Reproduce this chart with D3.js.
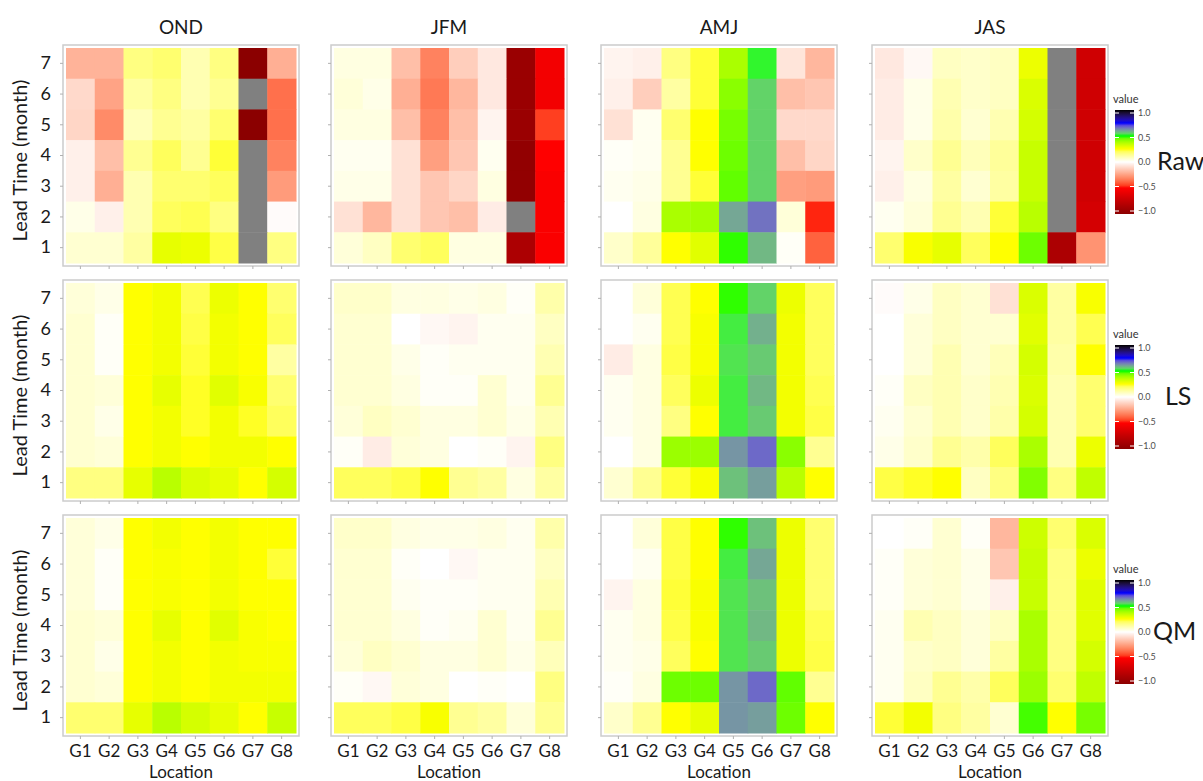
<!DOCTYPE html>
<html>
<head>
<meta charset="utf-8">
<script src="https://cdn.jsdelivr.net/npm/d3@7"></script>
<style>
  body { margin: 0; background: #fff; }
  text { font-family: Lato, "Open Sans", sans-serif; }
</style>
</head>
<body>
<div id="chart"></div>
<script>
var seasons = ["OND", "JFM", "AMJ", "JAS"];
var methods = ["Raw", "LS", "QM"];
var locations = ["G1", "G2", "G3", "G4", "G5", "G6", "G7", "G8"];
// rows of every grid below, top to bottom
var leadTimes = [7, 6, 5, 4, 3, 2, 1];
var legendTicks = [1.0, 0.5, 0.0, -0.5, -1.0];

// one row per lead time (7 first), columns G1..G8, null = no value (grey)
var rawOND = [
  [-0.20, -0.20, 0.16, 0.18, 0.10, 0.16, -1.00, -0.21],
  [-0.10, -0.24, 0.12, 0.16, 0.10, 0.14, null, -0.36],
  [-0.11, -0.30, 0.09, 0.14, 0.12, 0.18, -1.00, -0.36],
  [-0.04, -0.17, 0.14, 0.20, 0.14, 0.23, null, -0.32],
  [-0.04, -0.21, 0.10, 0.18, 0.18, 0.20, null, -0.26],
  [0.03, -0.04, 0.10, 0.20, 0.21, 0.16, null, -0.01],
  [0.06, 0.06, 0.12, 0.29, 0.28, 0.22, null, 0.16]
];
var rawJFM = [
  [0.04, 0.04, -0.17, -0.32, -0.13, -0.06, -0.93, -0.55],
  [0.05, 0.03, -0.21, -0.34, -0.19, -0.06, -0.93, -0.55],
  [0.04, 0.04, -0.17, -0.32, -0.17, -0.03, -0.93, -0.45],
  [0.02, 0.02, -0.08, -0.25, -0.15, 0.02, -0.97, -0.50],
  [0.03, 0.03, -0.08, -0.15, -0.11, 0.04, -0.97, -0.52],
  [-0.08, -0.19, -0.08, -0.15, -0.17, -0.05, null, -0.52],
  [0.05, 0.08, 0.18, 0.20, 0.04, 0.04, -0.85, -0.52]
];
var rawAMJ = [
  [-0.03, -0.04, 0.16, 0.23, 0.38, 0.51, -0.07, -0.19],
  [-0.04, -0.13, 0.12, 0.23, 0.42, 0.55, -0.17, -0.15],
  [-0.08, 0.02, 0.18, 0.25, 0.44, 0.55, -0.10, -0.10],
  [0.01, 0.02, 0.14, 0.25, 0.45, 0.55, -0.17, -0.11],
  [0.02, 0.03, 0.14, 0.23, 0.46, 0.55, -0.25, -0.26],
  [0.00, 0.04, 0.38, 0.39, 0.60, 0.66, 0.05, -0.48],
  [0.07, 0.13, 0.25, 0.30, 0.49, 0.58, 0.01, -0.39]
];
var rawJAS = [
  [-0.06, -0.02, 0.08, 0.07, 0.08, 0.28, null, -0.70],
  [-0.05, 0.03, 0.10, 0.07, 0.08, 0.31, null, -0.70],
  [-0.05, 0.03, 0.11, 0.06, 0.10, 0.32, null, -0.70],
  [-0.03, 0.07, 0.14, 0.09, 0.13, 0.34, null, -0.70],
  [-0.04, 0.04, 0.12, 0.06, 0.12, 0.34, null, -0.70],
  [0.02, 0.05, 0.14, 0.10, 0.23, 0.36, null, -0.68],
  [0.18, 0.26, 0.29, 0.20, 0.25, 0.45, -0.85, -0.28]
];
var lsOND = [
  [0.05, 0.03, 0.25, 0.27, 0.21, 0.28, 0.25, 0.18],
  [0.06, 0.01, 0.25, 0.27, 0.22, 0.27, 0.25, 0.20],
  [0.06, 0.01, 0.25, 0.27, 0.23, 0.27, 0.25, 0.12],
  [0.06, 0.05, 0.25, 0.29, 0.24, 0.30, 0.26, 0.18],
  [0.06, 0.03, 0.25, 0.27, 0.24, 0.27, 0.24, 0.20],
  [0.06, 0.05, 0.25, 0.27, 0.25, 0.27, 0.27, 0.25],
  [0.16, 0.16, 0.29, 0.36, 0.31, 0.29, 0.25, 0.32]
];
var lsJFM = [
  [0.07, 0.07, 0.04, 0.04, 0.03, 0.04, 0.01, 0.11],
  [0.06, 0.06, 0.00, -0.02, -0.03, 0.02, 0.02, 0.08],
  [0.06, 0.06, 0.03, 0.01, 0.02, 0.02, 0.02, 0.10],
  [0.06, 0.06, 0.04, 0.01, 0.01, 0.06, 0.02, 0.14],
  [0.05, 0.08, 0.06, 0.04, 0.04, 0.06, 0.03, 0.10],
  [0.01, -0.05, 0.05, 0.04, 0.00, 0.01, -0.03, 0.16],
  [0.20, 0.20, 0.22, 0.25, 0.14, 0.12, 0.04, 0.12]
];
var lsAMJ = [
  [0.00, 0.05, 0.21, 0.25, 0.49, 0.55, 0.28, 0.20],
  [0.00, 0.02, 0.21, 0.26, 0.52, 0.59, 0.27, 0.20],
  [-0.05, 0.04, 0.22, 0.26, 0.53, 0.56, 0.27, 0.20],
  [0.02, 0.04, 0.20, 0.28, 0.52, 0.58, 0.27, 0.21],
  [0.02, 0.04, 0.16, 0.25, 0.52, 0.56, 0.27, 0.22],
  [0.00, 0.04, 0.40, 0.40, 0.62, 0.67, 0.42, 0.14],
  [0.06, 0.14, 0.23, 0.26, 0.57, 0.61, 0.36, 0.25]
];
var lsJAS = [
  [-0.01, 0.03, 0.08, 0.06, -0.08, 0.31, 0.12, 0.26],
  [0.00, 0.05, 0.08, 0.06, 0.06, 0.30, 0.12, 0.21],
  [0.00, 0.05, 0.10, 0.06, 0.09, 0.32, 0.11, 0.25],
  [0.01, 0.08, 0.10, 0.07, 0.10, 0.31, 0.10, 0.18],
  [0.02, 0.06, 0.10, 0.07, 0.11, 0.32, 0.10, 0.18],
  [0.03, 0.07, 0.14, 0.11, 0.20, 0.38, 0.10, 0.28],
  [0.22, 0.24, 0.25, 0.08, 0.16, 0.43, 0.16, 0.35]
];
var qmOND = [
  [0.05, 0.03, 0.25, 0.27, 0.25, 0.27, 0.25, 0.25],
  [0.05, 0.01, 0.25, 0.26, 0.25, 0.27, 0.25, 0.23],
  [0.05, 0.01, 0.25, 0.26, 0.25, 0.27, 0.25, 0.25],
  [0.06, 0.05, 0.25, 0.29, 0.25, 0.30, 0.26, 0.25],
  [0.06, 0.03, 0.25, 0.27, 0.25, 0.27, 0.26, 0.26],
  [0.06, 0.05, 0.25, 0.27, 0.25, 0.27, 0.27, 0.27],
  [0.18, 0.18, 0.29, 0.36, 0.32, 0.29, 0.25, 0.34]
];
var qmJFM = [
  [0.07, 0.07, 0.04, 0.03, 0.03, 0.04, 0.02, 0.11],
  [0.06, 0.06, 0.01, 0.00, -0.02, 0.02, 0.02, 0.08],
  [0.06, 0.06, 0.02, 0.01, 0.01, 0.02, 0.02, 0.10],
  [0.06, 0.06, 0.04, 0.01, 0.02, 0.06, 0.02, 0.14],
  [0.05, 0.08, 0.06, 0.04, 0.04, 0.06, 0.03, 0.09],
  [0.01, -0.02, 0.05, 0.04, 0.00, 0.01, 0.00, 0.16],
  [0.20, 0.20, 0.22, 0.26, 0.14, 0.12, 0.05, 0.14]
];
var qmAMJ = [
  [0.00, 0.05, 0.22, 0.25, 0.49, 0.57, 0.28, 0.18],
  [0.00, 0.02, 0.22, 0.25, 0.52, 0.60, 0.28, 0.18],
  [-0.03, 0.04, 0.23, 0.26, 0.53, 0.57, 0.28, 0.18],
  [0.02, 0.04, 0.22, 0.26, 0.53, 0.58, 0.28, 0.21],
  [0.02, 0.03, 0.20, 0.25, 0.53, 0.56, 0.28, 0.22],
  [0.01, 0.04, 0.45, 0.45, 0.62, 0.67, 0.46, 0.14],
  [0.07, 0.14, 0.25, 0.29, 0.62, 0.61, 0.45, 0.25]
];
var qmJAS = [
  [0.00, 0.01, 0.06, 0.01, -0.19, 0.33, 0.18, 0.31],
  [0.01, 0.05, 0.06, 0.03, -0.15, 0.34, 0.16, 0.28],
  [0.01, 0.05, 0.06, 0.03, -0.04, 0.34, 0.16, 0.30],
  [0.02, 0.10, 0.08, 0.05, 0.08, 0.38, 0.16, 0.30],
  [0.02, 0.07, 0.08, 0.05, 0.12, 0.38, 0.16, 0.32],
  [0.02, 0.08, 0.14, 0.11, 0.20, 0.40, 0.18, 0.35],
  [0.23, 0.27, 0.16, 0.12, 0.06, 0.48, 0.25, 0.44]
];

var grids = {
  Raw: [rawOND, rawJFM, rawAMJ, rawJAS],
  LS: [lsOND, lsJFM, lsAMJ, lsJAS],
  QM: [qmOND, qmJFM, qmAMJ, qmJAS]
};

var width = 1203, height = 781;
var colX = [66, 334, 604, 875],
    rowY = [48, 283, 518],
    pw = 230, ph = 215;
var methodLabelX = [1157, 1165, 1153];

var color = d3.scaleLinear()
  .domain([-1, -0.5, 0, 0.25, 0.5, 0.75, 1])
  .range(["#8b0000", "#ff0000", "#ffffff", "#ffff00", "#00ff00", "#0000ff", "#000000"])
  .interpolate(d3.interpolateLab);

var svg = d3.select("#chart")
  .append("svg")
  .attr("width", width)
  .attr("height", height);

// gradient for the colour bars
var grad = svg.append("defs").append("linearGradient")
  .attr("id", "bar")
  .attr("x1", 0).attr("y1", 1).attr("x2", 0).attr("y2", 0);
grad.selectAll("stop")
  .data(d3.range(0, 41))
  .enter().append("stop")
    .attr("offset", function(i) { return (i / 40 * 100) + "%"; })
    .attr("stop-color", function(i) { return color(-1 + i / 20); });

// column titles
svg.selectAll(".title")
  .data(seasons)
  .enter().append("text")
    .attr("x", function(d, i) { return colX[i] + pw / 2; })
    .attr("y", 34)
    .attr("text-anchor", "middle")
    .attr("font-size", 19)
    .attr("fill", "#1a1a1a")
    .text(function(d) { return d; });

methods.forEach(function(m, r) {
  var y0 = rowY[r];

  seasons.forEach(function(s, c) {
    var x0 = colX[c];
    var x = d3.scaleBand().domain(locations).range([x0, x0 + pw]);
    var y = d3.scaleBand().domain(leadTimes).range([y0, y0 + ph]);

    var cells = [];
    grids[m][c].forEach(function(row, i) {
      row.forEach(function(v, j) {
        cells.push({lead: leadTimes[i], loc: locations[j], value: v});
      });
    });

    var g = svg.append("g");
    g.selectAll("rect")
      .data(cells)
      .enter().append("rect")
        .attr("x", function(d) { return x(d.loc); })
        .attr("y", function(d) { return y(d.lead); })
        .attr("width", x.bandwidth() + 0.5)
        .attr("height", y.bandwidth() + 0.5)
        .attr("fill", function(d) { return d.value === null ? "#808080" : color(d.value); });

    g.append("rect")
      .attr("x", x0 - 3).attr("y", y0 - 3)
      .attr("width", pw + 6).attr("height", ph + 6)
      .attr("fill", "none")
      .attr("stroke", "#cccccc")
      .attr("stroke-width", 1.5);

    // bottom axis, labels only on the last row
    var xa = g.append("g")
      .attr("transform", "translate(0," + (y0 + ph + 3) + ")")
      .call(d3.axisBottom(x).tickSize(3).tickPadding(6)
        .tickFormat(r == 2 ? null : function() { return ""; }));
    xa.select(".domain").remove();
    xa.selectAll("line").attr("stroke", "#b0b0b0");
    xa.selectAll("text").attr("font-size", 17).attr("fill", "#1a1a1a")
      .attr("font-family", "Lato, sans-serif");

    // left axis, labels only on the first column
    var ya = g.append("g")
      .attr("transform", "translate(" + (x0 - 3) + ",0)")
      .call(d3.axisLeft(y).tickSize(3).tickPadding(9)
        .tickFormat(c == 0 ? null : function() { return ""; }));
    ya.select(".domain").remove();
    ya.selectAll("line").attr("stroke", "#b0b0b0");
    ya.selectAll("text").attr("font-size", 18).attr("fill", "#1a1a1a")
      .attr("font-family", "Lato, sans-serif");

    if (r == 2) {
      g.append("text")
        .attr("x", x0 + pw / 2)
        .attr("y", 778)
        .attr("text-anchor", "middle")
        .attr("font-size", 17)
        .attr("fill", "#1a1a1a")
        .text("Location");
    }
  });

  // y title
  svg.append("text")
    .attr("transform", "translate(27," + (y0 + ph / 2 + 5) + ") rotate(-90)")
    .attr("text-anchor", "middle")
    .attr("font-size", 20)
    .attr("fill", "#1a1a1a")
    .text("Lead Time (month)");

  // legend
  var lx = 1115, barTop = y0 + 62, barH = 104, barW = 19;
  var ly = d3.scaleLinear().domain([1, -1]).range([barTop + 3, barTop + barH - 3]);
  var lg = svg.append("g");
  lg.append("text")
    .attr("x", lx - 2).attr("y", barTop - 7)
    .attr("font-size", 11)
    .attr("fill", "#333")
    .text("value");
  lg.append("rect")
    .attr("x", lx).attr("y", barTop)
    .attr("width", barW).attr("height", barH)
    .attr("fill", "url(#bar)");
  lg.selectAll(".tk")
    .data(legendTicks)
    .enter().append("path")
      .attr("d", function(d) {
        return "M" + lx + "," + ly(d) + "h4M" + (lx + barW) + "," + ly(d) + "h-4";
      })
      .attr("stroke", "#fff")
      .attr("stroke-width", 1);
  var la = lg.append("g")
    .attr("transform", "translate(" + (lx + barW) + ",0)")
    .call(d3.axisRight(ly).tickValues(legendTicks).tickSize(0).tickPadding(4)
      .tickFormat(d3.format(".1f")));
  la.select(".domain").remove();
  la.selectAll("text").attr("font-size", 9).attr("fill", "#4d4d4d")
    .attr("font-family", "Lato, sans-serif");

  svg.append("text")
    .attr("x", methodLabelX[r])
    .attr("y", y0 + ph / 2 + 14)
    .attr("font-size", 25)
    .attr("fill", "#1a1a1a")
    .text(m);
});
</script>
</body>
</html>
